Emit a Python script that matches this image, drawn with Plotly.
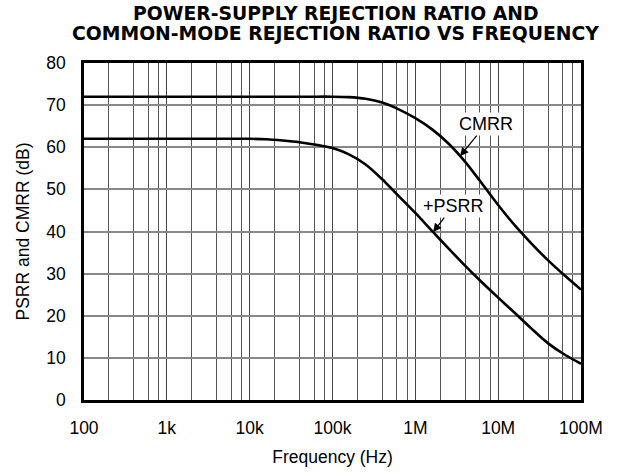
import numpy as np
import plotly.graph_objects as go

# Data (frequency in Hz, level in dB)
cmrr_freq = [100, 1e3, 1e4, 5e4, 1e5, 1.58e5, 2.51e5, 3.98e5, 6.31e5, 1e6, 1.58e6, 2.51e6, 3.98e6,
             6.31e6, 1e7, 1.58e7, 2.51e7, 3.98e7, 6.31e7, 1e8]
cmrr_db = [72, 72, 72, 72, 72, 71.9, 71.5, 70.6, 69.0, 66.9, 64.3, 60.9, 56.6,
           51.5, 46.3, 41.5, 37.2, 33.2, 29.6, 26.2]

psrr_freq = [100, 1e3, 1e4, 1.58e4, 2.51e4, 3.98e4, 6.31e4, 1e5, 1.58e5, 2.51e5, 3.98e5, 6.31e5, 1e6,
             1.58e6, 2.51e6, 3.98e6, 6.31e6, 1e7, 1.58e7, 2.51e7, 3.98e7, 6.31e7, 1e8]
psrr_db = [62, 62, 62, 61.9, 61.6, 61.2, 60.6, 59.8, 58.3, 55.9, 52.4, 48.4, 44.4,
           40.2, 36.0, 31.9, 28.0, 24.3, 20.7, 17.0, 13.5, 10.8, 8.6]

x_tick_vals = [1e2, 1e3, 1e4, 1e5, 1e6, 1e7, 1e8]
x_tick_text = ["100", "1k", "10k", "100k", "1M", "10M", "100M"]
x_minor_vals = [m * d for d in [1e2, 1e3, 1e4, 1e5, 1e6, 1e7] for m in (2, 4, 6, 8)]
y_tick_vals = [0, 10, 20, 30, 40, 50, 60, 70, 80]

title_lines = ["POWER-SUPPLY REJECTION RATIO AND", "COMMON-MODE REJECTION RATIO VS FREQUENCY"]

FONT = "Liberation Sans, Arial, Helvetica, sans-serif"
TITLE_FONT = "DejaVu Sans, Liberation Sans, sans-serif"
W, H = 618, 475
ML, MR, MT, MB = 84, 37, 63, 75
PLOT_W = W - ML - MR
PLOT_H = H - MT - MB

fig = go.Figure()
fig.add_trace(go.Scatter(x=cmrr_freq, y=cmrr_db, mode="lines", name="CMRR",
                         line=dict(color="black", width=2.6, shape="spline", smoothing=0.8)))
fig.add_trace(go.Scatter(x=psrr_freq, y=psrr_db, mode="lines", name="+PSRR",
                         line=dict(color="black", width=2.6, shape="spline", smoothing=0.8)))

def tip(logf, fr, db):
    return logf, float(np.interp(logf, np.log10(fr), db))

cx, cy = tip(6.54, cmrr_freq, cmrr_db)
px, py = tip(6.215, psrr_freq, psrr_db)

fig.add_annotation(x=cx, y=cy, xref="x", yref="y", text="CMRR", showarrow=True,
                   ax=26, ay=-32, arrowhead=2, arrowsize=1.3, arrowwidth=1.3,
                   arrowcolor="black", bgcolor="white", borderpad=1,
                   font=dict(family=FONT, size=18, color="black"))
fig.add_annotation(x=px, y=py, xref="x", yref="y", text="+PSRR", showarrow=True,
                   ax=20, ay=-26, arrowhead=2, arrowsize=1.3, arrowwidth=1.3,
                   arrowcolor="black", bgcolor="white", borderpad=1,
                   font=dict(family=FONT, size=18, color="black"))

# two-line bold title, placed as two text lines for tight line spacing
title_cx = (335.5 - ML) / PLOT_W
for line, page_y in zip(title_lines, [13.5, 33.5]):
    fig.add_annotation(x=title_cx, y=(H - MB - page_y) / PLOT_H, xref="paper", yref="paper",
                       xanchor="center", yanchor="middle", showarrow=False,
                       text="<b>" + line + "</b>",
                       font=dict(family=TITLE_FONT, size=18.8, color="black"))

fig.update_layout(
    width=W, height=H,
    margin=dict(l=ML, r=MR, t=MT, b=MB, autoexpand=False),
    paper_bgcolor="white", plot_bgcolor="white",
    showlegend=False,
    font=dict(family=FONT, size=18, color="black"),
)
fig.update_xaxes(
    type="log", range=[2, 8],
    tickvals=x_tick_vals, ticktext=x_tick_text,
    showgrid=True, gridcolor="#444", gridwidth=1,
    minor=dict(tickvals=x_minor_vals, showgrid=True, gridcolor="#555", gridwidth=1, ticks=""),
    showline=True, linecolor="black", linewidth=2.5, mirror=True,
    ticks="", ticklabelstandoff=10,
    tickfont=dict(size=17.5),
    title=dict(text="Frequency (Hz)", font=dict(size=17.5), standoff=14),
    zeroline=False,
)
fig.update_yaxes(
    range=[0, 80], tickvals=y_tick_vals,
    showgrid=True, gridcolor="#888", gridwidth=1.6,
    showline=True, linecolor="black", linewidth=2.5, mirror=True,
    ticks="", ticklabelstandoff=12,
    tickfont=dict(size=17.5),
    title=dict(text="PSRR and CMRR (dB)", font=dict(size=17.5), standoff=13),
    zeroline=False,
)

fig.write_html("out.html", config={"displayModeBar": False},
               post_script="document.body.style.margin='0px';")
